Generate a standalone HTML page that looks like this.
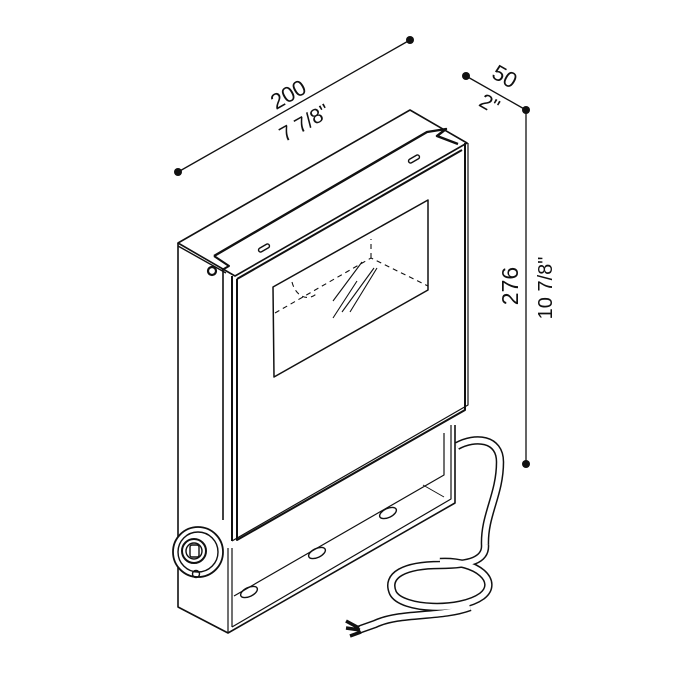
<!DOCTYPE html>
<html><head><meta charset="utf-8"><style>html,body{margin:0;padding:0;background:#fff}svg{display:block}text{font-family:"Liberation Sans",sans-serif;fill:#111}</style></head>
<body>
<svg width="700" height="700" viewBox="0 0 700 700" xmlns="http://www.w3.org/2000/svg">
<g stroke="#111" fill="none" stroke-linejoin="round" stroke-linecap="round">
<line x1="178" y1="172" x2="410" y2="40" stroke-width="1.3"/>
<line x1="466" y1="76" x2="526" y2="110" stroke-width="1.3"/>
<line x1="526" y1="110" x2="526" y2="464" stroke-width="1.3"/>
</g>
<g fill="#111">
<circle cx="178" cy="172" r="4"/><circle cx="410" cy="40" r="4"/>
<circle cx="466" cy="76" r="4"/><circle cx="526" cy="110" r="4"/><circle cx="526" cy="464" r="4"/>
</g>
<text x="0" y="0" font-size="22" text-anchor="middle" transform="translate(292,101) rotate(-29.6)">200</text>
<text x="0" y="0" font-size="21" text-anchor="middle" transform="translate(308,129) rotate(-29.6)">7 7/8"</text>
<text x="0" y="0" font-size="22" text-anchor="middle" transform="translate(501,83) rotate(29.6)">50</text>
<text x="0" y="0" font-size="21" text-anchor="middle" transform="translate(486,110) rotate(29.6)">2"</text>
<text x="0" y="0" font-size="23" text-anchor="middle" transform="translate(518,286) rotate(-90)">276</text>
<text x="0" y="0" font-size="20" text-anchor="middle" transform="translate(552,288) rotate(-90)">10 7/8"</text>

<g stroke="#111" fill="none" stroke-linejoin="round" stroke-width="1.4">
<path d="M178,243 L410,110 L467,143 L235,276 Z" fill="#fff" stroke-width="1.6"/>
<path d="M214,256 L427,132 L446,129 L437,136 L458,144" stroke-width="2.4"/>
<path d="M214,256 L229,266 L222,270" stroke-width="2"/>
<rect x="-6" y="-2" width="12" height="4" rx="2" transform="translate(264,248) rotate(-30)"/>
<rect x="-6" y="-2" width="12" height="4" rx="2" transform="translate(414,159) rotate(-30)"/>
<path d="M178,243 L178,515 M223,270 L223,520" stroke-width="1.6"/>
<path d="M178,246 L226,273" />
<circle cx="212" cy="271" r="4" stroke-width="2.2"/>
<path d="M232,276 L232,541 M237,279 L237,540 L465,410 L465,143 M237,279 L462,150" stroke-width="2"/>
<path d="M232,541 L468,405 L468,143" stroke-width="1.2"/>
<path d="M273,287 L428,200 L428,290 L274,377 Z" stroke-width="1.5"/>
<path d="M275,313 L371,258 L428,286 M371,258 L371,239 M292,282 C296,298 310,302 318,292" stroke-dasharray="5,4" stroke-width="1.1"/>
<path d="M333,301 L362,262 M342,312 L374,268 M350,312 L377,268 M333,318 L357,281" stroke-width="1.1"/>
<!-- bracket -->
<path d="M178,515 L178,607 L228,633 L455,503 L455,425" stroke-width="1.6"/>
<path d="M232,627 L451,499 L451,425" stroke-width="1.2"/>
<path d="M228,548 L228,633 M232,548 L232,627" stroke-width="1.2"/>
<path d="M444,433 L444,475 L234,596" stroke-width="1.2"/>
<path d="M423,485 L444,497" stroke-width="1"/>
<ellipse cx="249" cy="592" rx="9" ry="4.5" transform="rotate(-25 249 592)"/>
<ellipse cx="317" cy="553" rx="9" ry="4.5" transform="rotate(-25 317 553)"/>
<ellipse cx="388" cy="513" rx="9" ry="4.5" transform="rotate(-25 388 513)"/>
<circle cx="198" cy="552" r="25" fill="#fff" stroke-width="1.8"/>
<circle cx="198" cy="552" r="20"/>
<circle cx="194" cy="551" r="12" stroke-width="2"/>
<circle cx="194" cy="551" r="8"/>
<rect x="190" y="545" width="9" height="12" rx="2"/>
<circle cx="196" cy="574" r="3.5"/>
<!-- cable -->
<path id="cab" d="M457,446 C475,436 500,438 500,462 C500,495 484,515 485,545 C486,560 470,565 440,565 C405,565 385,575 393,593 C402,610 460,612 482,596 C500,582 478,560 440,562 M470,607 C440,618 400,612 375,624 L358,630" stroke-width="8.5"/>
<path d="M457,446 C475,436 500,438 500,462 C500,495 484,515 485,545 C486,560 470,565 440,565 C405,565 385,575 393,593 C402,610 460,612 482,596 C500,582 478,560 440,562 M470,607 C440,618 400,612 375,624 L358,630" stroke="#fff" stroke-width="5.5"/>
<path d="M359,628 L346,621 M360,630 L346,628 M361,632 L350,636" stroke-width="3.5"/>
</g>
</svg>
</body></html>
